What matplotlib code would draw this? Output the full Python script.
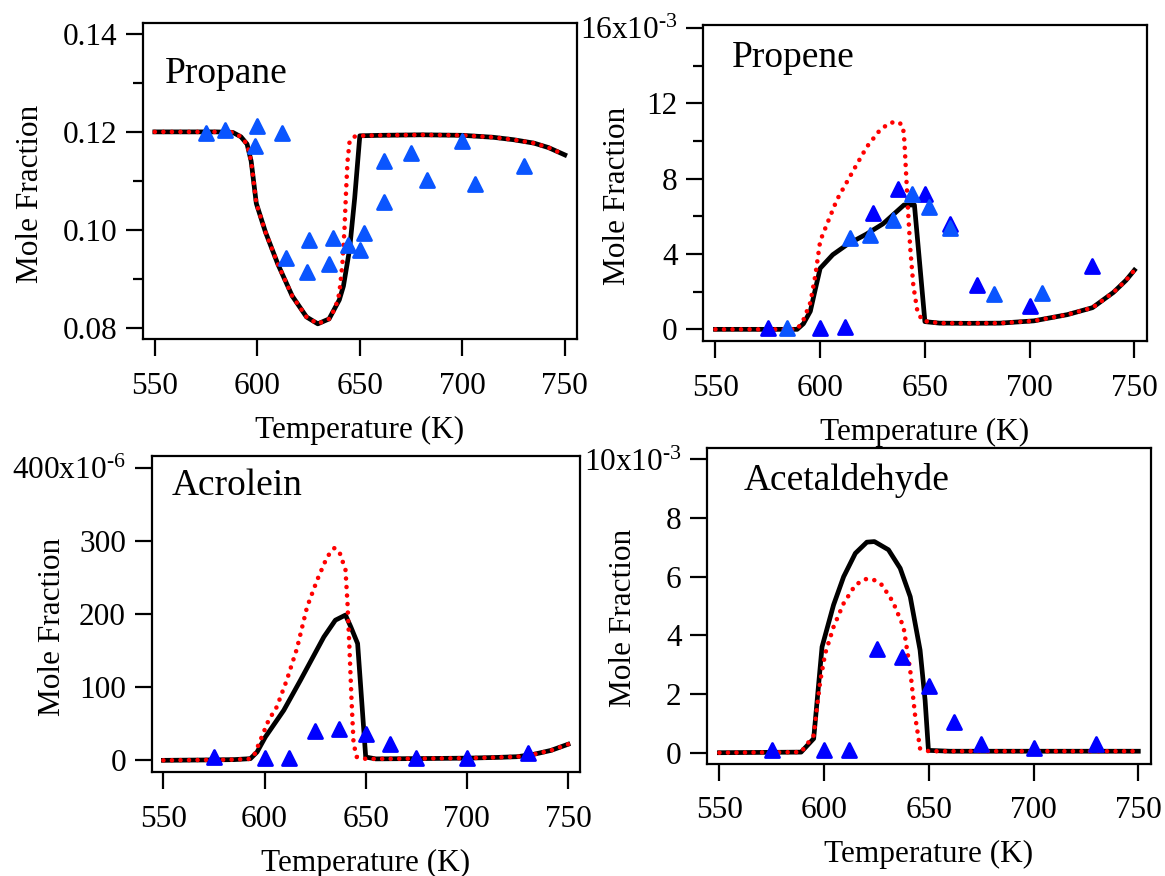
import matplotlib
matplotlib.use("Agg")
import matplotlib.pyplot as plt
from matplotlib.markers import MarkerStyle

plt.rcParams['font.family'] = ['Liberation Serif', 'DejaVu Serif']
plt.rcParams['mathtext.fontset'] = 'custom'
plt.rcParams['mathtext.rm'] = 'Liberation Serif'
plt.rcParams['mathtext.default'] = 'rm'

# ---- Propane (mole fraction) ----
propane_T_a = [550, 560, 570, 580, 588, 592, 595, 597, 599.5, 604, 610, 617, 624, 629.5,
               635, 640, 642, 645, 647.5, 650, 660, 680, 700, 715, 725, 735, 742, 750]
propane_a = [0.1200, 0.1200, 0.1200, 0.1200, 0.1199, 0.1190, 0.1175, 0.1140, 0.1054, 0.0995,
             0.0930, 0.0865, 0.0822, 0.0808, 0.0818, 0.0857, 0.0885, 0.0960, 0.1065, 0.1192,
             0.1193, 0.1194, 0.1193, 0.1189, 0.1184, 0.1177, 0.1168, 0.1153]
propane_T_b = [550, 560, 570, 580, 588, 592, 595, 597, 599.5, 604, 610, 617, 624, 629.5,
               635, 638, 640, 641.5, 642.5, 643.3, 644, 645, 647, 650, 660, 680, 700, 715,
               725, 735, 742, 750]
propane_b = [0.1200, 0.1200, 0.1200, 0.1200, 0.1199, 0.1190, 0.1175, 0.1140, 0.1054, 0.0995,
             0.0930, 0.0865, 0.0822, 0.0808, 0.0818, 0.0840, 0.0870, 0.0930, 0.1000, 0.1080,
             0.1140, 0.1180, 0.1190, 0.1192, 0.1193, 0.1194, 0.1193, 0.1189, 0.1184, 0.1177,
             0.1168, 0.1153]
propane_exp_T = [575, 584, 600, 599, 612, 614, 625, 624, 637, 635, 644, 652, 650, 662, 662,
                 675, 683, 700, 706, 730]
propane_exp = [0.1197, 0.1204, 0.1212, 0.1171, 0.1198, 0.0942, 0.0979, 0.0914, 0.0983, 0.0930,
               0.0969, 0.0994, 0.0959, 0.1141, 0.1057, 0.1156, 0.1102, 0.1182, 0.1093, 0.1131]

# ---- Propene (x10^-3) ----
propene_T_a = [550, 570, 589, 592, 595.3, 597.7, 600, 606, 613, 622, 630, 640, 645, 650, 657,
               670, 686, 702, 718, 730, 740, 746, 750]
propene_a = [0, 0, 0, 0.3, 0.96, 2.14, 3.24, 3.96, 4.51, 5.05, 5.6, 6.6, 6.6, 0.41, 0.33,
             0.32, 0.33, 0.45, 0.78, 1.15, 1.96, 2.6, 3.14]
propene_T_b = [550, 570, 589, 592, 595.3, 597.7, 600, 603.3, 608, 613, 617.6, 622.3, 628.7,
               633.5, 637.4, 639.5, 640.2, 641, 642, 643, 644.5, 646.5, 649, 657, 670, 686,
               702, 718, 730, 740, 746, 750]
propene_b = [0, 0, 0, 0.5, 1.42, 2.87, 4.69, 5.6, 6.88, 7.87, 8.78, 9.69, 10.6, 10.97, 11.0,
             10.8, 10.0, 8.3, 6.2, 4.3, 2.3, 0.9, 0.45, 0.33, 0.32, 0.33, 0.45, 0.78, 1.15,
             1.96, 2.6, 3.14]
propene_exp1_T = [575, 600, 612, 625, 637, 650, 662, 675, 700, 730]
propene_exp1 = [0.05, 0.05, 0.1, 6.18, 7.46, 7.2, 5.6, 2.38, 1.23, 3.38]
propene_exp2_T = [584, 614, 624, 635, 644, 652, 662, 683, 706]
propene_exp2 = [0.05, 4.87, 5.02, 5.82, 7.2, 6.51, 5.4, 1.87, 1.93]

# ---- Acrolein (x10^-6) ----
acrolein_T_a = [550, 570, 585, 593, 596.3, 600.4, 609.5, 617.8, 629.3, 635, 640, 642.6, 646,
                650, 655, 680, 700, 715, 725, 733, 741.7, 750]
acrolein_a = [0, 0.5, 1, 2.3, 11.4, 32, 68.6, 110, 169, 192, 199, 183, 160, 4.5, 2, 2.5, 3,
              4, 5, 8.2, 13.7, 22]
acrolein_T_b = [550, 570, 585, 593, 595, 597.9, 602, 606, 611, 616, 621, 626, 631, 634.6,
                637.3, 640, 641, 642, 643, 644, 645.6, 650, 655, 680, 700, 715, 725, 733,
                741.7, 750]
acrolein_b = [0, 0.5, 1, 2, 8, 27.4, 55, 73, 110, 153, 210, 247, 279, 291, 283, 261, 215,
              151, 82, 23, 4.6, 2, 2, 2.5, 3, 4, 5, 8.2, 13.7, 22]
acrolein_exp_T = [575, 600, 612, 625, 637, 650, 662, 675, 700, 730]
acrolein_exp = [4.5, 3.6, 3.0, 40, 43.5, 36.6, 23, 3.6, 3.6, 10]

# ---- Acetaldehyde (x10^-3) ----
acet_T_a = [550, 589, 595, 599, 604.5, 609.3, 614.9, 620.4, 624, 630.7, 636.3, 641.1, 645.8,
            648.2, 649.8, 660, 700, 750]
acet_a = [0, 0.02, 0.48, 3.61, 5.04, 6.0, 6.8, 7.18, 7.2, 6.92, 6.29, 5.32, 3.5, 1.79, 0.08,
          0.05, 0.05, 0.05]
acet_T_b = [550, 589, 595, 596.6, 598.2, 600.5, 604.5, 609.3, 614.9, 619.6, 623.6, 627.6,
            632.8, 637.9, 641.1, 643.5, 645.8, 650, 700, 750]
acet_b = [0, 0.02, 0.59, 1.56, 2.47, 3.38, 4.29, 5.09, 5.72, 5.92, 5.9, 5.72, 5.15, 4.29,
          2.81, 1.22, 0.14, 0.05, 0.05, 0.05]
acet_exp_T = [575, 600, 612, 625, 637, 650, 662, 675, 700, 730]
acet_exp = [0.08, 0.08, 0.08, 3.52, 3.27, 2.27, 1.03, 0.31, 0.17, 0.28]

x_ticks = [550, 600, 650, 700, 750]

fig = plt.figure(figsize=(11.65, 8.76), dpi=100)

rects = [[0.1227, 0.6130, 0.3725, 0.3611],
         [0.6037, 0.6107, 0.3806, 0.3607],
         [0.1302, 0.1187, 0.3676, 0.3611],
         [0.6071, 0.1282, 0.3806, 0.3607]]

tri = MarkerStyle('^', joinstyle='round')
DARK = '#0000ff'
LIGHT = '#0a55ff'
HY = '\u2010'   # short hyphen for the exponent, as in the original


def draw(ax, Ta, a, Tb, b, exps, title, tpos, yticks, ylabels, ylim, ylab_x, minor=None):
    ax.plot(Ta, a, color='black', lw=3.4, solid_joinstyle='round', zorder=2)
    ax.plot(Tb, b, color='red', lw=3.3, linestyle=(0, (0.01, 1.85)),
            dash_capstyle='round', zorder=3)
    for (Te, ve, c) in exps:
        ax.plot(Te, ve, linestyle='none', marker=tri, ms=10.2, mfc=c, mec=c, mew=2.0, zorder=4)
    ax.set_xlim(544.2, 755.9)
    ax.set_ylim(*ylim)
    ax.set_xticks(x_ticks)
    ax.set_yticks(yticks)
    ax.set_yticklabels(ylabels)
    if minor is not None:
        ax.set_yticks(minor, minor=True)
    for s in ax.spines.values():
        s.set_linewidth(1.6)
    ax.tick_params(axis='both', which='major', direction='out', length=12, width=1.6,
                   labelsize=22.5, top=False, right=False)
    ax.tick_params(axis='x', pad=11.5)
    ax.tick_params(axis='y', pad=6.5)
    ax.tick_params(axis='y', which='minor', direction='out', length=7, width=1.6)
    ax.set_xlabel('Temperature (K)', fontsize=22.5)
    ax.set_ylabel('Mole Fraction', fontsize=22.5)
    ax.xaxis.set_label_coords(0.5, -0.242)
    ax.yaxis.set_label_coords(ylab_x, 0.46)
    ax.text(tpos[0], tpos[1], title, transform=ax.transAxes, fontsize=27,
            ha='left', va='baseline')


ax1 = fig.add_axes(rects[0])
draw(ax1, propane_T_a, propane_a, propane_T_b, propane_b,
     [(propane_exp_T, propane_exp, LIGHT)], 'Propane', (0.05, 0.809),
     [0.08, 0.10, 0.12, 0.14], ['0.08', '0.10', '0.12', '0.14'], (0.0777, 0.1423),
     -0.226, minor=[0.09, 0.11, 0.13])

ax2 = fig.add_axes(rects[1])
draw(ax2, propene_T_a, propene_a, propene_T_b, propene_b,
     [(propene_exp1_T, propene_exp1, DARK), (propene_exp2_T, propene_exp2, LIGHT)],
     'Propene', (0.064, 0.868),
     [0, 4, 8, 12, 16], ['0', '4', '8', '12', '16x10$^{' + HY + '3}$'], (-0.62, 16.15),
     -0.161, minor=[2, 6, 10, 14])

ax3 = fig.add_axes(rects[2])
draw(ax3, acrolein_T_a, acrolein_a, acrolein_T_b, acrolein_b,
     [(acrolein_exp_T, acrolein_exp, DARK)], 'Acrolein', (0.047, 0.876),
     [0, 100, 200, 300, 400], ['0', '100', '200', '300', '400x10$^{' + HY + '6}$'],
     (-16, 417.3), -0.198)

ax4 = fig.add_axes(rects[3])
draw(ax4, acet_T_a, acet_a, acet_T_b, acet_b,
     [(acet_exp_T, acet_exp, DARK)], 'Acetaldehyde', (0.081, 0.866),
     [0, 2, 4, 6, 8, 10], ['0', '2', '4', '6', '8', '10x10$^{' + HY + '3}$'],
     (-0.375, 10.40), -0.157)

fig.savefig('out.png', dpi=100)
